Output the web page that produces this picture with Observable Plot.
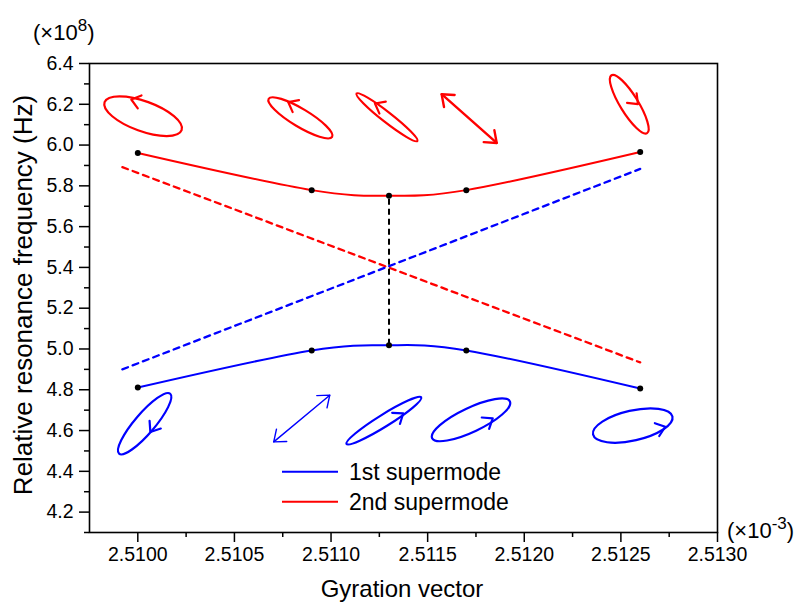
<!DOCTYPE html>
<html><head><meta charset="utf-8">
<script src="https://cdn.jsdelivr.net/npm/d3@7"></script>
<script src="https://cdn.jsdelivr.net/npm/@observablehq/plot@0.6"></script>
<style>body{margin:0;background:#fff} svg{display:block}</style>
</head><body><div id="chart"></div>
<script>
// ---- data (x in units of 1e-3, y in units of 1e8 Hz) ----
const gyration = [2.5100, 2.5109, 2.5113, 2.5117, 2.5126];
const mode1 = [4.811, 4.993, 5.018, 4.993, 4.806];   // 1st supermode
const mode2 = [5.961, 5.779, 5.752, 5.779, 5.966];   // 2nd supermode
const uncoupledX = [2.50992, 2.5126];
const uncoupledRed = [5.892, 4.934];
const uncoupledBlue = [4.900, 5.883];
const gapX = 2.5113;
const seriesNames = ["1st supermode", "2nd supermode"];
const xTicks = [2.5100, 2.5105, 2.5110, 2.5115, 2.5120, 2.5125, 2.5130];
const xMinor = [2.51025, 2.51075, 2.51125, 2.51175, 2.51225, 2.51275];
const yTicks = [4.2, 4.4, 4.6, 4.8, 5.0, 5.2, 5.4, 5.6, 5.8, 6.0, 6.2, 6.4];
const yMinor = [4.1, 4.3, 4.5, 4.7, 4.9, 5.1, 5.3, 5.5, 5.7, 5.9, 6.1, 6.3];

// polarization glyph centers (data units) and shapes
const ellipseX = [2.51003, 2.510844, 2.511292, 2.512546, 2.510038, 2.511276, 2.511727, 2.512564];
const ellipseY = [6.139, 6.131, 6.134, 6.198, 4.631, 4.646, 4.650, 4.622];
const ellipseMode = ["2nd","2nd","2nd","2nd","1st","1st","1st","1st"];
const ellipseA = [41, 37, 38.6, 34, 39.4, 44, 43, 40.7];
const ellipseB = [15, 9, 5, 9, 10, 6, 12, 15];
const ellipseTilt = [20, 31, 38, 58.4, -49.5, -31.9, -25.3, -12.8];
const arrowDX = [-11.8, -12.2, -12, 8.7, 5.7, 19.3, 21.7, 32.5];
const arrowDY = [-16.7, -15.8, -13.7, 0, 8.2, -7.2, -1.4, 1.2];
const arrowHeading = [196, 208, 208, 45, 124, -35, -33, -19];
const linearX1 = [2.511575, 2.510706];
const linearY1 = [6.247, 4.542];
const linearX2 = [2.51186, 2.510996];
const linearY2 = [6.008, 4.771];
const linearMode = ["2nd", "1st"];

const colors = {"1st": "#0000ff", "2nd": "#ff0000"};

const curve1 = gyration.map((g, i) => ({x: g, y: mode1[i]}));
const curve2 = gyration.map((g, i) => ({x: g, y: mode2[i]}));
const dots = curve1.concat(curve2);
const redDash = uncoupledX.map((g, i) => ({x: g, y: uncoupledRed[i]}));
const blueDash = uncoupledX.map((g, i) => ({x: g, y: uncoupledBlue[i]}));

const font = "Liberation Sans, Arial, Helvetica, sans-serif";

const chart = Plot.plot({
  width: 799, height: 602,
  marginLeft: 89, marginRight: 82, marginTop: 63, marginBottom: 70,
  x: {domain: [2.50975, 2.5130]},
  y: {domain: [4.1, 6.4]},
  style: {fontFamily: font, fontSize: "19px", color: "#000", background: "#fff", overflow: "visible"},
  marks: [
    Plot.frame({stroke: "#000", strokeWidth: 1.6}),
    Plot.axisX({ticks: xTicks, tickSize: 10, tickPadding: 5, tickFormat: d => d.toFixed(4), label: null, strokeWidth: 1.5, fontSize: 19.5}),
    Plot.axisX({ticks: xMinor, tickSize: 5, tickFormat: () => "", label: null, strokeWidth: 1.5}),
    Plot.axisY({ticks: yTicks, tickSize: 10, tickPadding: 6, tickFormat: d => d.toFixed(1), label: null, strokeWidth: 1.5, fontSize: 19.5}),
    Plot.axisY({ticks: yMinor, tickSize: 5, tickFormat: () => "", label: null, strokeWidth: 1.5}),
    Plot.line(redDash, {x: "x", y: "y", stroke: colors["2nd"], strokeWidth: 2.3, strokeDasharray: "6,5"}),
    Plot.line(blueDash, {x: "x", y: "y", stroke: colors["1st"], strokeWidth: 2.3, strokeDasharray: "6,5"}),
    Plot.ruleX([{x: gapX, y1: mode1[2], y2: mode2[2]}], {x: "x", y1: "y1", y2: "y2", stroke: "#000", strokeWidth: 2, strokeDasharray: "6,4"}),
    Plot.line(curve1, {x: "x", y: "y", stroke: colors["1st"], strokeWidth: 2, curve: "natural"}),
    Plot.line(curve2, {x: "x", y: "y", stroke: colors["2nd"], strokeWidth: 2, curve: "natural"}),
    Plot.dot(dots, {x: "x", y: "y", r: 3, fill: "#000"})
  ]
});
document.getElementById("chart").appendChild(chart);

function scaleFn(name) {
  const s = chart.scale(name);
  if (s && typeof s.apply === "function") return v => s.apply(v);
  const f = d3.scaleLinear().domain(s.domain).range(s.range);
  return v => f(v);
}
const X = scaleFn("x"), Y = scaleFn("y");
const svg = d3.select(chart);
const g = svg.append("g").attr("fill", "none").attr("stroke-linecap", "round").attr("stroke-linejoin", "round");

function chevron(tx, ty, headingDeg, len, color, width) {
  const a = 38 * Math.PI / 180, h = headingDeg * Math.PI / 180;
  const p1 = [tx - len * Math.cos(h + a), ty - len * Math.sin(h + a)];
  const p2 = [tx - len * Math.cos(h - a), ty - len * Math.sin(h - a)];
  g.append("path").attr("d", `M${p1[0]},${p1[1]}L${tx},${ty}L${p2[0]},${p2[1]}`)
    .attr("stroke", color).attr("stroke-width", width);
}

ellipseX.forEach((ex, i) => {
  const cx = X(ex), cy = Y(ellipseY[i]), c = colors[ellipseMode[i]];
  g.append("ellipse").attr("cx", cx).attr("cy", cy).attr("rx", ellipseA[i]).attr("ry", ellipseB[i])
    .attr("transform", `rotate(${ellipseTilt[i]} ${cx} ${cy})`).attr("stroke", c).attr("stroke-width", 2.2);
  chevron(cx + arrowDX[i], cy + arrowDY[i], arrowHeading[i], 11, c, 2.2);
});

linearX1.forEach((lx, i) => {
  const x1 = X(lx), y1 = Y(linearY1[i]), x2 = X(linearX2[i]), y2 = Y(linearY2[i]);
  const c = colors[linearMode[i]], w = linearMode[i] === "2nd" ? 2.4 : 1.4;
  g.append("line").attr("x1", x1).attr("y1", y1).attr("x2", x2).attr("y2", y2).attr("stroke", c).attr("stroke-width", w);
  const ang = Math.atan2(y2 - y1, x2 - x1) * 180 / Math.PI;
  chevron(x2, y2, ang, 13, c, w);
  chevron(x1, y1, ang + 180, 13, c, w);
});

// legend
const lg = svg.append("g").attr("font-family", font).attr("font-size", 23).attr("text-anchor", "start");
seriesNames.forEach((name, i) => {
  const key = i === 0 ? "1st" : "2nd";
  const yy = 471.7 + i * 30;
  lg.append("line").attr("x1", 282).attr("x2", 338).attr("y1", yy).attr("y2", yy)
    .attr("stroke", colors[key]).attr("stroke-width", 2);
  lg.append("text").attr("x", 349).attr("y", yy).attr("dy", "0.36em").attr("fill", "#000").text(name);
});

// axis titles and multipliers
const tg = svg.append("g").attr("font-family", font).attr("fill", "#000").attr("text-anchor", "start");
tg.append("text").attr("x", 402).attr("y", 597).attr("text-anchor", "middle").attr("font-size", 24).text("Gyration vector");
tg.append("text").attr("transform", "translate(32,295) rotate(-90)").attr("text-anchor", "middle").attr("font-size", 26)
  .text("Relative resonance frequency (Hz)");
const m1 = tg.append("text").attr("x", 33).attr("y", 40).attr("font-size", 22);
m1.append("tspan").text("(×10");
m1.append("tspan").attr("dy", -9).attr("font-size", 17).text("8");
m1.append("tspan").attr("dy", 9).text(")");
const m2 = tg.append("text").attr("x", 727).attr("y", 538).attr("font-size", 22);
m2.append("tspan").text("(×10");
m2.append("tspan").attr("dy", -9).attr("font-size", 17).text("-3");
m2.append("tspan").attr("dy", 9).text(")");
</script>
</body></html>
